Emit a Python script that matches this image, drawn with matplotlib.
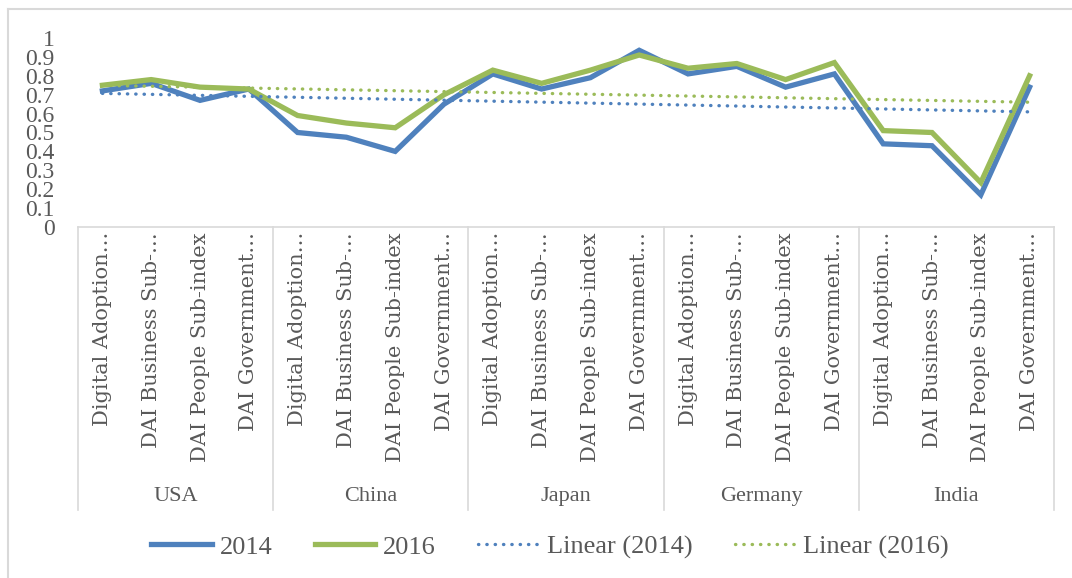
# DAI sub-indices 2014 vs 2016 by country, with linear trendlines
import numpy as np
import matplotlib.pyplot as plt
from matplotlib.lines import Line2D

plt.rcParams['font.family'] = ['Liberation Serif', 'DejaVu Serif']

# Data
countries = ['USA', 'China', 'Japan', 'Germany', 'India']
indices = ['Digital Adoption\u2026', 'DAI Business Sub-\u2026',
           'DAI People Sub-index', 'DAI Government\u2026']
v2014 = [0.72, 0.76, 0.67, 0.73,
         0.50, 0.475, 0.40, 0.65,
         0.81, 0.73, 0.79, 0.935,
         0.81, 0.85, 0.74, 0.81,
         0.44, 0.43, 0.17, 0.74]
v2016 = [0.75, 0.78, 0.74, 0.73,
         0.59, 0.55, 0.525, 0.70,
         0.83, 0.76, 0.83, 0.91,
         0.84, 0.865, 0.78, 0.87,
         0.51, 0.50, 0.235, 0.80]

blue = '#4F81BD'
green = '#9BBB59'
grey = '#595959'
edge = '#D9D9D9'

W, H = 1072, 578
fig = plt.figure(figsize=(W/100, H/100), dpi=100)

# plot area in pixels: x 78..1054, y 38..227
x0, x1, y0, y1 = 78, 1054, 38, 227
ax = fig.add_axes([x0/W, 1 - y1/H, (x1 - x0)/W, (y1 - y0)/H])

x = np.arange(len(v2014))
ax.plot(x, v2014, color=blue, lw=3.8, solid_joinstyle='miter', label='2014')
ax.plot(x, v2016, color=green, lw=3.8, solid_joinstyle='miter', label='2016')

# linear trendlines
for vals, c, lab in [(v2014, blue, 'Linear (2014)'), (v2016, green, 'Linear (2016)')]:
    k, b = np.polyfit(x, vals, 1)
    ax.plot(x, k*x + b, color=c, lw=2.4, ls=(0, (0.1, 2.4)),
            dash_capstyle='round', label=lab)

ax.set_xlim(-0.5, len(x) - 0.5)
ax.set_ylim(0, 1)
ax.set_yticks(np.arange(0, 1.01, 0.1))
ax.set_yticklabels(['%g' % round(t, 1) for t in np.arange(0, 1.01, 0.1)])
ax.tick_params(axis='y', length=0, pad=17, labelsize=17, labelcolor=grey)
ax.set_xticks([])
for s in ['left', 'right', 'top']:
    ax.spines[s].set_visible(False)
ax.spines['bottom'].set_color(edge)
ax.spines['bottom'].set_linewidth(1.2)

# multi-level category axis
tr = ax.get_xaxis_transform()
px = 1/(y1 - y0)  # one pixel in axes fraction
for i in range(len(x)):
    ax.text(x[i], -5*px, indices[i % 4], transform=tr, rotation=90,
            ha='center', va='top', fontsize=15, color=grey,
            family=['DejaVu Serif'])
for g, name in enumerate(countries):
    ax.text(g*4 + 1.5, -(497 - y1)*px, name, transform=tr,
            ha='center', va='center', fontsize=16, color=grey)
for b in np.arange(-0.5, len(x), 4):
    ax.add_line(Line2D([b, b], [0, -(510 - y1)*px], transform=tr,
                       color=edge, lw=1.2, clip_on=False))

# legend
fig.legend(loc='center', bbox_to_anchor=(550/W, 1 - 547/H), ncol=4,
           frameon=False, fontsize=19, labelcolor=grey,
           handlelength=2.3, handletextpad=0.3, columnspacing=1.6)

# chart border
fig.add_artist(Line2D([7.5/W, 7.5/W], [0, 1 - 8.5/H], color=edge, lw=1.5))
fig.add_artist(Line2D([7.5/W, 1], [1 - 8.5/H, 1 - 8.5/H], color=edge, lw=1.5))

fig.savefig('out.png', dpi=100)
